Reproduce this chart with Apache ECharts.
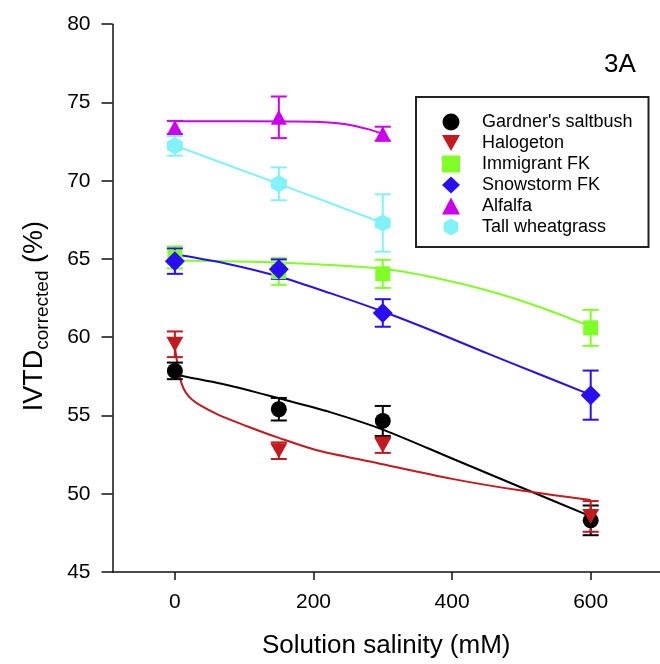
<!DOCTYPE html>
<html><head><meta charset="utf-8">
<script src="https://cdn.jsdelivr.net/npm/echarts@6/dist/echarts.min.js"></script>
<style>html,body{margin:0;padding:0;background:#fff}#c{width:660px;height:664px}</style>
</head><body><div id="c"></div>
<script>
const FONT = '"Liberation Sans", Arial, sans-serif';

// ---- data ----
const salinity = [0, 150, 300, 600];
const salinityAlfalfa = [0, 150, 300];
const xTicks = [0, 200, 400, 600];

const gardnerMean = [57.85, 55.4, 54.65, 48.3];
const gardnerErr = [0.53, 0.72, 0.96, 0.95];
const halogetonMean = [59.55, 52.75, 53.1, 48.55];
const halogetonErr = [0.82, 0.53, 0.49, 0.98];
const immigrantMean = [65.1, 64.2, 64.05, 60.6];
const immigrantErr = [0.7, 0.85, 0.9, 1.15];
const snowstormMean = [64.86, 64.35, 61.55, 56.3];
const snowstormErr = [0.81, 0.62, 0.88, 1.57];
const alfalfaMean = [73.4, 74.05, 73.0];
const alfalfaErr = [0.42, 1.33, 0.45];
const wheatgrassMean = [72.23, 69.8, 67.3];
const wheatgrassErr = [0.63, 1.05, 1.83];

// fitted curves
const gardnerFitX = [0, 75, 150, 225, 300, 400, 500, 600];
const gardnerFitY = [57.6, 56.95, 56.1, 55.2, 54.1, 52.25, 50.4, 48.55];
const halogetonFitX = [0, 10, 25, 60, 105, 150, 205, 290, 400, 500, 600];
const halogetonFitY = [59.4, 57.0, 56.0, 55.1, 54.3, 53.57, 52.78, 51.98, 50.95, 50.2, 49.6];
const immigrantFitX = [0, 150, 300, 375, 450, 525, 600];
const immigrantFitY = [64.9, 64.77, 64.37, 63.8, 63.0, 61.95, 60.69];
const snowstormFitX = [0, 75, 150, 225, 300, 375, 450, 525, 600];
const snowstormFitY = [65.3, 64.7, 63.88, 62.8, 61.64, 60.35, 58.98, 57.65, 56.32];
const alfalfaFitX = [0, 100, 200, 235, 260, 280, 300];
const alfalfaFitY = [73.8, 73.8, 73.77, 73.67, 73.5, 73.28, 73.0];
const wheatgrassFitX = [0, 150, 300];
const wheatgrassFitY = [72.25, 69.8, 67.3];

// ---- styles ----
const species = [
  {name: "Gardner's saltbush", x: salinity, mean: gardnerMean, err: gardnerErr, fx: gardnerFitX, fy: gardnerFitY,
   color: '#000000', symbol: 'circle', size: 16},
  {name: 'Halogeton', x: salinity, mean: halogetonMean, err: halogetonErr, fx: halogetonFitX, fy: halogetonFitY,
   color: '#c21a1e', symbol: 'path://M0,0L2,0L1,1.8Z', size: [17, 15]},
  {name: 'Immigrant FK', x: salinity, mean: immigrantMean, err: immigrantErr, fx: immigrantFitX, fy: immigrantFitY,
   color: '#80ff26', symbol: 'rect', size: 15},
  {name: 'Snowstorm FK', x: salinity, mean: snowstormMean, err: snowstormErr, fx: snowstormFitX, fy: snowstormFitY,
   color: '#2a0ef2', symbol: 'diamond', size: [20, 20]},
  {name: 'Alfalfa', x: salinityAlfalfa, mean: alfalfaMean, err: alfalfaErr, fx: alfalfaFitX, fy: alfalfaFitY,
   color: '#cc00ee', symbol: 'triangle', size: [16, 15]},
  {name: 'Tall wheatgrass', x: salinityAlfalfa, mean: wheatgrassMean, err: wheatgrassErr, fx: wheatgrassFitX, fy: wheatgrassFitY,
   color: '#80f2f8', symbol: 'path://M0,-1L0.866,-0.5L0.866,0.5L0,1L-0.866,0.5L-0.866,-0.5Z', size: [16, 17]}
];

const series = [];
species.forEach(function (s) {
  series.push({
    type: 'line', name: s.name + ' fit', data: s.fx.map(function (x, i) { return [x, s.fy[i]]; }),
    smooth: 0.3, showSymbol: false, symbol: 'none', z: 1,
    lineStyle: {color: s.color, width: 2}, silent: true
  });
});
species.forEach(function (s) {
  series.push({
    type: 'custom', name: s.name + ' err', z: 2, silent: true,
    data: s.x.map(function (x, i) { return [x, s.mean[i] - s.err[i], s.mean[i] + s.err[i]]; }),
    renderItem: function (params, api) {
      const x = api.value(0);
      const lo = api.coord([x, api.value(1)]);
      const hi = api.coord([x, api.value(2)]);
      const w = 8;
      const st = {stroke: s.color, lineWidth: 2};
      return {type: 'group', children: [
        {type: 'line', shape: {x1: hi[0], y1: hi[1], x2: lo[0], y2: lo[1]}, style: st},
        {type: 'line', shape: {x1: hi[0] - w, y1: hi[1], x2: hi[0] + w, y2: hi[1]}, style: st},
        {type: 'line', shape: {x1: lo[0] - w, y1: lo[1], x2: lo[0] + w, y2: lo[1]}, style: st}
      ]};
    }
  });
  series.push({
    type: 'scatter', name: s.name, z: 3,
    data: s.x.map(function (x, i) { return [x, s.mean[i]]; }),
    symbol: s.symbol, symbolSize: s.size,
    itemStyle: {color: s.color, opacity: 1}
  });
});

const chart = echarts.init(document.getElementById('c'), null, {renderer: 'canvas'});
chart.setOption({
  animation: false,
  backgroundColor: '#ffffff',
  textStyle: {fontFamily: FONT},
  grid: {left: 112.5, top: 24.2, right: -5.7, bottom: 91.7, containLabel: false},
  legend: {
    data: species.map(function (s) { return s.name; }),
    orient: 'vertical', left: 416, top: 97,
    padding: [16, 16, 11, 26], itemGap: 3, itemWidth: 18, itemHeight: 17,
    borderColor: '#222', borderWidth: 2, backgroundColor: '#fff',
    textStyle: {fontFamily: FONT, fontSize: 18, color: '#000', padding: [0, 0, 0, 17]},
    selectedMode: false
  },
  graphic: [{
    type: 'text', left: 604, top: 52,
    style: {text: '3A', font: '26px ' + FONT, fill: '#000'}
  }],
  xAxis: {
    type: 'value', min: -90, max: 700,
    name: 'Solution salinity (mM)', nameLocation: 'middle', nameGap: 61,
    nameTextStyle: {fontFamily: FONT, fontSize: 26, color: '#000'},
    axisLine: {show: true, onZero: false, lineStyle: {color: '#111', width: 1.5}},
    axisTick: {show: true, inside: false, length: 8, customValues: xTicks, lineStyle: {color: '#111', width: 1.5}},
    axisLabel: {customValues: xTicks, fontSize: 21, color: '#000', margin: 20, fontFamily: FONT},
    splitLine: {show: false}
  },
  yAxis: {
    type: 'value', min: 45, max: 80, interval: 5,
    name: '{big|IVTD}{sub|corrected}{big| (%)}', nameLocation: 'middle', nameGap: 64, nameRotate: 90,
    nameTextStyle: {
      color: '#000', fontFamily: FONT, padding: [0, 36, 0, 0],
      rich: {
        big: {fontSize: 27, lineHeight: 27, verticalAlign: 'top', fontFamily: FONT, color: '#000'},
        sub: {fontSize: 19, lineHeight: 19, verticalAlign: 'top', padding: [12, 0, 0, 0], fontFamily: FONT, color: '#000'}
      }
    },
    axisLine: {show: true, onZero: false, lineStyle: {color: '#111', width: 1.5}},
    axisTick: {show: true, inside: false, length: 11, lineStyle: {color: '#111', width: 1.5}},
    axisLabel: {fontSize: 21, color: '#000', margin: 22, fontFamily: FONT},
    splitLine: {show: false}
  },
  series: series
});
</script></body></html>
